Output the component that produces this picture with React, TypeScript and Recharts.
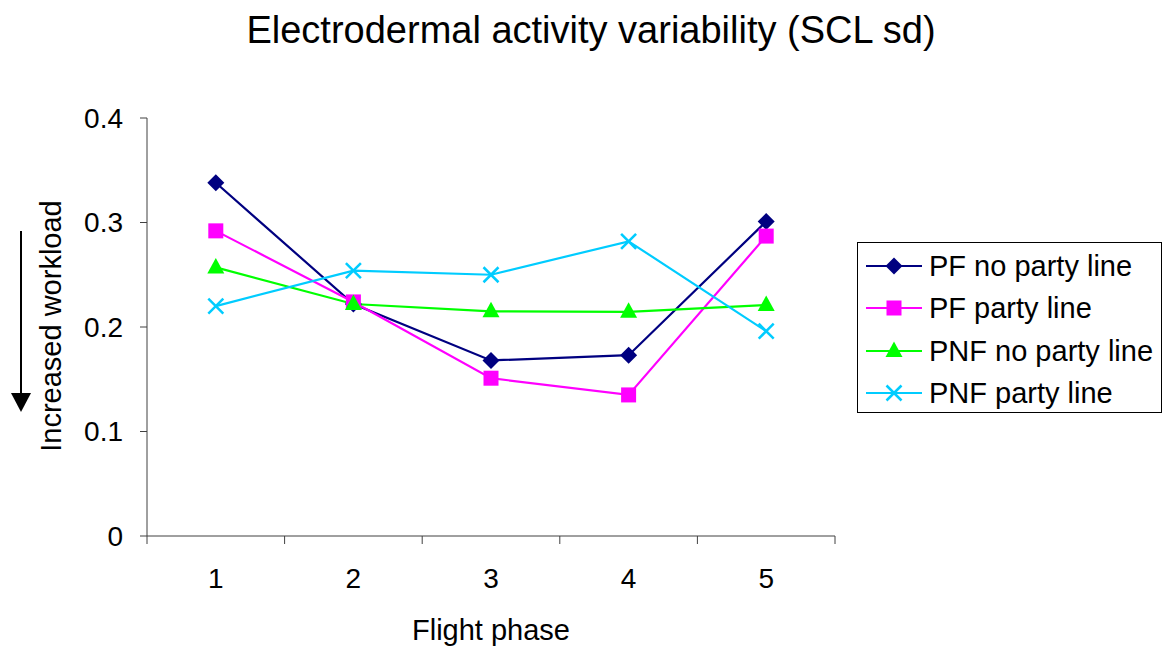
import { LineChart, Line, XAxis, YAxis, Legend } from 'recharts';

const PHASES = [1, 2, 3, 4, 5];
const PF_NO_PARTY = [0.338, 0.222, 0.168, 0.173, 0.301];
const PF_PARTY = [0.292, 0.224, 0.151, 0.135, 0.287];
const PNF_NO_PARTY = [0.257, 0.222, 0.215, 0.2145, 0.221];
const PNF_PARTY = [0.220, 0.254, 0.250, 0.282, 0.196];

const X_TICKS = [0.5, 1, 1.5, 2, 2.5, 3, 3.5, 4, 4.5, 5, 5.5];
const Y_TICKS = [0, 0.1, 0.2, 0.3, 0.4];

const FONT = '"Liberation Sans", Arial, sans-serif';
const AXIS = '#404040';
const LEGEND_W = 305;

type Shape = 'diamond' | 'square' | 'triangle' | 'x';

const SERIES: { key: string; name: string; color: string; shape: Shape }[] = [
  { key: 'pfNo', name: 'PF no party line', color: '#000080', shape: 'diamond' },
  { key: 'pf', name: 'PF party line', color: '#FF00FF', shape: 'square' },
  { key: 'pnfNo', name: 'PNF no party line', color: '#00FF00', shape: 'triangle' },
  { key: 'pnf', name: 'PNF party line', color: '#00CCFF', shape: 'x' },
];

const data = PHASES.map((p, i) => ({
  phase: p,
  pfNo: PF_NO_PARTY[i],
  pf: PF_PARTY[i],
  pnfNo: PNF_NO_PARTY[i],
  pnf: PNF_PARTY[i],
}));

function Marker({ cx, cy, shape, color }: { cx: number; cy: number; shape: Shape; color: string }) {
  if (shape === 'diamond')
    return <polygon points={`${cx},${cy - 8.5} ${cx + 8.5},${cy} ${cx},${cy + 8.5} ${cx - 8.5},${cy}`} fill={color} />;
  if (shape === 'square') return <rect x={cx - 7.5} y={cy - 7.5} width={15} height={15} fill={color} />;
  if (shape === 'triangle')
    return <polygon points={`${cx},${cy - 9.5} ${cx + 8.5},${cy + 6} ${cx - 8.5},${cy + 6}`} fill={color} />;
  return (
    <g stroke={color} strokeWidth={2.5}>
      <line x1={cx - 7.5} y1={cy - 7.5} x2={cx + 7.5} y2={cy + 7.5} />
      <line x1={cx - 7.5} y1={cy + 7.5} x2={cx + 7.5} y2={cy - 7.5} />
    </g>
  );
}

// half-step ticks carry the tick marks, whole ones carry the labels
function PhaseTick(props: any) {
  const { x, y, payload } = props;
  const v = payload.value as number;
  if (Number.isInteger(v)) {
    return (
      <text x={x} y={y + 44} textAnchor="middle" fontSize={28} fontFamily={FONT} fill="#000">
        {v}
      </text>
    );
  }
  return <line x1={x} y1={y - 8} x2={x} y2={y} stroke={AXIS} strokeWidth={1} />;
}

function LegendBox() {
  return (
    <div
      style={{
        width: LEGEND_W,
        height: 171,
        border: '1px solid #000',
        boxSizing: 'border-box',
        background: '#fff',
        position: 'relative',
        fontFamily: FONT,
      }}
    >
      {SERIES.map((s, i) => (
        <div key={s.key} style={{ position: 'absolute', left: 0, top: 2 + i * 42.3, height: 42, width: LEGEND_W }}>
          <svg width={70} height={42} style={{ position: 'absolute', left: 0, top: 0 }}>
            <line x1={8} y1={21} x2={64} y2={21} stroke={s.color} strokeWidth={2} />
            <Marker cx={36} cy={21} shape={s.shape} color={s.color} />
          </svg>
          <span
            style={{
              position: 'absolute',
              left: 71,
              top: 0,
              lineHeight: '42px',
              fontSize: 29,
              color: '#000',
              whiteSpace: 'nowrap',
            }}
          >
            {s.name}
          </span>
        </div>
      ))}
    </div>
  );
}

export default function App() {
  return (
    <div style={{ position: 'absolute', left: 0, top: 0, width: 1163, height: 653, background: '#fff' }}>
      <LineChart
        width={1163}
        height={653}
        data={data}
        margin={{ top: 118, right: 328 - LEGEND_W, bottom: 0, left: 0 }}
      >
        <XAxis
          dataKey="phase"
          type="number"
          domain={[0.5, 5.5]}
          ticks={X_TICKS}
          interval={0}
          height={117}
          tickSize={8}
          tickMargin={0}
          tickLine={false}
          tick={<PhaseTick />}
          axisLine={{ stroke: AXIS, strokeWidth: 1 }}
        />
        <YAxis
          type="number"
          domain={[0, 0.4]}
          ticks={Y_TICKS}
          width={147}
          tickSize={7}
          tickMargin={17}
          tickFormatter={(v: number) => (v === 0 ? '0' : v.toFixed(1))}
          tick={{ fontSize: 28, fontFamily: FONT, fill: '#000' }}
          tickLine={{ stroke: AXIS }}
          axisLine={{ stroke: AXIS, strokeWidth: 1 }}
        />
        <Legend
          layout="vertical"
          align="right"
          verticalAlign="top"
          content={<LegendBox />}
          wrapperStyle={{ position: 'absolute', left: 857, top: 242, width: LEGEND_W, height: 171 }}
        />
        {SERIES.map((s) => (
          <Line
            key={s.key}
            type="linear"
            dataKey={s.key}
            name={s.name}
            stroke={s.color}
            strokeWidth={2.2}
            isAnimationActive={false}
            dot={(p: any) => <Marker key={`${s.key}-${p.index}`} cx={p.cx} cy={p.cy} shape={s.shape} color={s.color} />}
            activeDot={false}
          />
        ))}
      </LineChart>
      <svg
        width={1163}
        height={653}
        style={{ position: 'absolute', left: 0, top: 0, pointerEvents: 'none' }}
        fontFamily={FONT}
      >
        <text x={591} y={43} textAnchor="middle" fontSize={38} fill="#000">
          Electrodermal activity variability (SCL sd)
        </text>
        <text x={491} y={640} textAnchor="middle" fontSize={29} fill="#000">
          Flight phase
        </text>
        <text
          x={51}
          y={326}
          textAnchor="middle"
          dominantBaseline="central"
          fontSize={29}
          fill="#000"
          transform="rotate(-90 51 326)"
        >
          Increased workload
        </text>
        <line x1={21} y1={231} x2={21} y2={396} stroke="#000" strokeWidth={2} />
        <polygon points="11,393 31,393 21,412" fill="#000" />
      </svg>
    </div>
  );
}
